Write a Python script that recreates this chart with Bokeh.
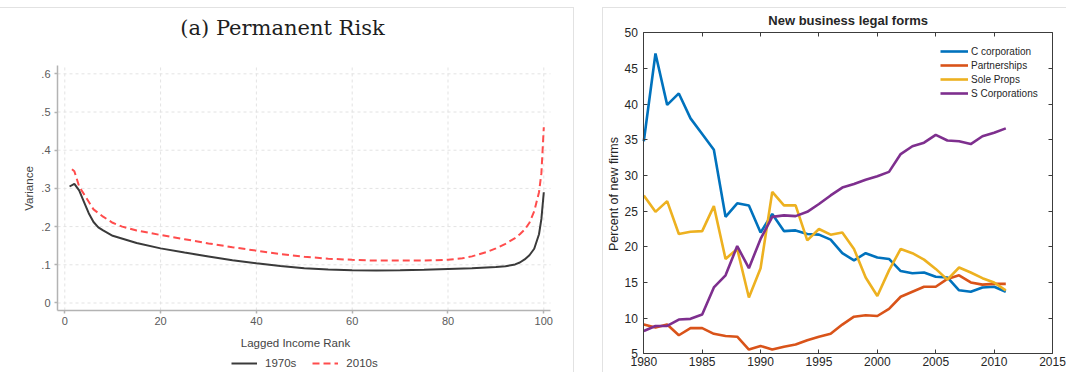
import math
from bokeh.plotting import figure
from bokeh.layouts import row
from bokeh.models import (FixedTicker, LinearAxis, Legend, Label,
                          CustomJSTickFormatter, Range1d)
from bokeh.embed import file_html
from bokeh.resources import INLINE

# ---------------- Left panel data: (a) Permanent Risk ----------------
rank_1970s = [1, 2, 3, 4, 5, 6, 7, 8, 10, 15, 20, 25, 30, 35, 40, 45, 50, 55,
              60, 65, 70, 75, 80, 85, 88, 90, 92, 94, 95, 96, 97, 98, 99, 99.5, 100]
var_1970s = [0.305, 0.312, 0.295, 0.265, 0.235, 0.212, 0.198, 0.19, 0.176, 0.157,
             0.143, 0.132, 0.122, 0.112, 0.104, 0.097, 0.091, 0.088, 0.086, 0.085,
             0.0855, 0.087, 0.089, 0.091, 0.093, 0.094, 0.096, 0.101, 0.106, 0.114,
             0.125, 0.142, 0.18, 0.22, 0.29]
rank_2010s = [1.5, 2, 3, 4, 5, 6, 8, 10, 12, 15, 20, 25, 30, 35, 40, 45, 50, 55,
              60, 65, 70, 75, 80, 83, 85, 88, 90, 92, 94, 95, 96, 97, 98, 99, 99.5, 100]
var_2010s = [0.35, 0.345, 0.305, 0.285, 0.265, 0.245, 0.226, 0.21, 0.2, 0.19,
             0.178, 0.167, 0.156, 0.146, 0.137, 0.128, 0.121, 0.116, 0.113, 0.111,
             0.111, 0.111, 0.113, 0.117, 0.122, 0.133, 0.143, 0.155, 0.17, 0.18,
             0.192, 0.21, 0.24, 0.29, 0.34, 0.46]
left_xticks = [0, 20, 40, 60, 80, 100]
left_yticks = [0, 0.1, 0.2, 0.3, 0.4, 0.5, 0.6]
left_ytick_labels = ["0", ".1", ".2", ".3", ".4", ".5", ".6"]

# ---------------- Right panel data: New business legal forms ----------------
years = list(range(1980, 2012))
c_corp = [34.8, 47.1, 39.9, 41.5, 38.0, 35.8, 33.6, 24.2, 26.1, 25.8, 22.0, 24.6,
          22.2, 22.3, 21.8, 21.7, 21.0, 19.1, 18.1, 19.1, 18.5, 18.3, 16.6, 16.3,
          16.4, 15.8, 15.7, 13.9, 13.7, 14.3, 14.4, 13.7]
partnerships = [9.1, 8.7, 9.1, 7.6, 8.6, 8.6, 7.8, 7.5, 7.4, 5.6, 6.1, 5.6,
                6.0, 6.3, 6.9, 7.4, 7.8, 9.1, 10.2, 10.4, 10.3, 11.3, 13.0, 13.7,
                14.4, 14.4, 15.5, 16.0, 15.0, 14.7, 14.8, 14.8]
sole_props = [27.2, 24.9, 26.4, 21.8, 22.1, 22.2, 25.7, 18.3, 19.7, 12.9, 17.0, 27.7,
              25.8, 25.8, 20.9, 22.5, 21.7, 22.0, 19.7, 15.7, 13.1, 16.7, 19.7, 19.1,
              18.2, 16.9, 15.4, 17.1, 16.4, 15.6, 15.0, 13.9]
s_corp = [8.2, 8.9, 8.9, 9.8, 9.9, 10.5, 14.3, 16.0, 20.1, 17.0, 21.1, 24.2,
          24.4, 24.3, 24.9, 26.0, 27.2, 28.3, 28.8, 29.4, 29.9, 30.5, 33.0, 34.1,
          34.6, 35.7, 34.9, 34.8, 34.4, 35.5, 36.0, 36.6]
right_xticks = [1980, 1985, 1990, 1995, 2000, 2005, 2010, 2015]
right_yticks = [5, 10, 15, 20, 25, 30, 35, 40, 45, 50]

FONT = "Liberation Sans"
H = 372
W1, GAP, W2 = 574, 28, 464
PANEL_LINE = "#e2e2e2"

# ======================= Left figure =======================
# axis extents (Stata plot region)
L_X0, L_X1 = -1.52, 101.4
L_Y0, L_Y1 = -0.0196, 0.6217

p1 = figure(width=W1, height=H, x_range=Range1d(-13.42, 106.41),
            y_range=Range1d(-0.182, 0.792), output_backend="svg",
            toolbar_location=None, x_axis_type=None, y_axis_type=None,
            min_border=0, min_border_left=0, min_border_right=0,
            min_border_top=0, min_border_bottom=0)
p1.outline_line_color = None
p1.grid.visible = False
p1.background_fill_color = None
p1.border_fill_color = None
p1.styles = {
    "background": (f"linear-gradient({PANEL_LINE},{PANEL_LINE}) 0px 7px / 100% 1px no-repeat, "
                   f"linear-gradient({PANEL_LINE},{PANEL_LINE}) {W1 - 1}px 7px / 1px 100% no-repeat, white")
}

LAX = "#b3b3b3"


def style_left_axis(ax):
    ax.axis_line_color = LAX
    ax.axis_line_width = 1.5
    ax.major_tick_line_color = LAX
    ax.major_tick_line_width = 1.5
    ax.major_tick_out = 3
    ax.major_tick_in = 0
    ax.minor_tick_line_color = None
    ax.major_label_text_font = FONT
    ax.major_label_text_font_size = "11px"
    ax.major_label_text_color = "#5a5a5a"
    ax.major_label_standoff = 4


# dashed grid, limited to the plot region
p1.segment(x0=left_xticks, y0=[L_Y0] * len(left_xticks), x1=left_xticks,
           y1=[L_Y1] * len(left_xticks), line_color="#e3e3e3", line_width=1,
           line_dash="3 3")
p1.segment(x0=[L_X0] * len(left_yticks), y0=left_yticks,
           x1=[L_X1] * len(left_yticks), y1=left_yticks, line_color="#e3e3e3",
           line_width=1, line_dash="3 3")

xax1 = LinearAxis(ticker=FixedTicker(ticks=left_xticks), fixed_location=L_Y0,
                  bounds=(L_X0, L_X1))
style_left_axis(xax1)
p1.add_layout(xax1, "below")
yax1 = LinearAxis(ticker=FixedTicker(ticks=left_yticks), fixed_location=L_X0,
                  bounds=(L_Y0, L_Y1))
style_left_axis(yax1)
yax1.major_label_overrides = dict(zip(left_yticks, left_ytick_labels))
p1.add_layout(yax1, "left")

r70 = p1.line(rank_1970s, var_1970s, line_color="#3a3a3a", line_width=2)
r10 = p1.line(rank_2010s, var_2010s, line_color="#ff4c4c", line_width=2,
              line_dash="7 4")

leg1 = Legend(items=[("1970s", [r70]), ("2010s", [r10])],
              orientation="horizontal", location=(231, 2),
              label_text_font=FONT, label_text_font_size="11.5px",
              label_text_color="#444444", glyph_width=26, glyph_height=14,
              label_height=14, label_standoff=8, spacing=16, padding=0,
              margin=0, border_line_color=None, background_fill_alpha=0)
p1.add_layout(leg1)

p1.add_layout(Label(x=45.45, y=0.7213, text="(a) Permanent Risk",
                    text_align="center", text_baseline="middle",
                    text_font="DejaVu Serif", text_font_size="21px",
                    text_color="#1e1e1e"))
p1.add_layout(Label(x=48.16, y=-0.106, text="Lagged Income Rank",
                    text_align="center", text_baseline="middle",
                    text_font=FONT, text_font_size="11.5px",
                    text_color="#444444"))
p1.add_layout(Label(x=-7.37, y=0.2998, text="Variance", angle=math.pi / 2,
                    text_align="center", text_baseline="middle",
                    text_font=FONT, text_font_size="11.5px",
                    text_color="#444444"))

# ======================= Right figure =======================
p2 = figure(width=W2, height=H, x_range=Range1d(1976.463, 2016.199),
            y_range=Range1d(2.378, 54.528), output_backend="svg",
            toolbar_location=None, x_axis_type=None, y_axis_type=None,
            min_border=0, min_border_left=0, min_border_right=0,
            min_border_top=0, min_border_bottom=0)
p2.outline_line_color = None
p2.grid.visible = False
p2.background_fill_color = None
p2.border_fill_color = None
p2.styles = {
    "background": (f"linear-gradient({PANEL_LINE},{PANEL_LINE}) 0px 7px / 100% 1px no-repeat, "
                   f"linear-gradient({PANEL_LINE},{PANEL_LINE}) 0px 7px / 1px 100% no-repeat, white")
}

RAX = "#3c3c3c"


def style_right_axis(ax, labels=True):
    ax.axis_line_color = RAX
    ax.axis_line_width = 1
    ax.major_tick_line_color = RAX
    ax.major_tick_in = 4
    ax.major_tick_out = 0
    ax.minor_tick_line_color = None
    ax.major_label_text_font = FONT
    ax.major_label_text_font_size = "12px"
    ax.major_label_text_color = "#262626"
    if not labels:
        ax.formatter = CustomJSTickFormatter(code="return '';")


xb = LinearAxis(ticker=FixedTicker(ticks=right_xticks), fixed_location=5,
                bounds=(1980, 2015))
style_right_axis(xb)
xb.major_label_standoff = 3
p2.add_layout(xb, "below")
yl = LinearAxis(ticker=FixedTicker(ticks=right_yticks), fixed_location=1980,
                bounds=(5, 50))
style_right_axis(yl)
yl.major_label_standoff = 6
p2.add_layout(yl, "left")
xt = LinearAxis(ticker=FixedTicker(ticks=right_xticks), fixed_location=50,
                bounds=(1980, 2015))
style_right_axis(xt, labels=False)
p2.add_layout(xt, "above")
yr = LinearAxis(ticker=FixedTicker(ticks=right_yticks), fixed_location=2015,
                bounds=(5, 50))
style_right_axis(yr, labels=False)
p2.add_layout(yr, "right")

LW = 2.6
rc = p2.line(years, c_corp, line_color="#0072BD", line_width=LW)
rp = p2.line(years, partnerships, line_color="#D95319", line_width=LW)
rs = p2.line(years, sole_props, line_color="#EDB120", line_width=LW)
rsc = p2.line(years, s_corp, line_color="#7E2F8E", line_width=LW)

leg2 = Legend(items=[("C corporation", [rc]), ("Partnerships", [rp]),
                     ("Sole Props", [rs]), ("S Corporations", [rsc])],
              location=(338, 272), label_text_font=FONT,
              label_text_font_size="10px", label_text_color="#262626",
              glyph_width=28, glyph_height=14, label_height=14,
              label_standoff=3, spacing=0, padding=0, margin=0,
              border_line_color=None, background_fill_alpha=0)
p2.add_layout(leg2)

p2.add_layout(Label(x=1997.5, y=51.72, text="New business legal forms",
                    text_align="center", text_baseline="middle",
                    text_font=FONT, text_font_size="13px",
                    text_font_style="bold", text_color="#262626"))
p2.add_layout(Label(x=1977.49, y=27.4, text="Percent of new firms",
                    angle=math.pi / 2, text_align="center",
                    text_baseline="middle", text_font=FONT,
                    text_font_size="12.5px", text_color="#262626"))

layout = row(p1, p2, spacing=GAP)
open("out.html", "w").write(file_html(layout, INLINE))
